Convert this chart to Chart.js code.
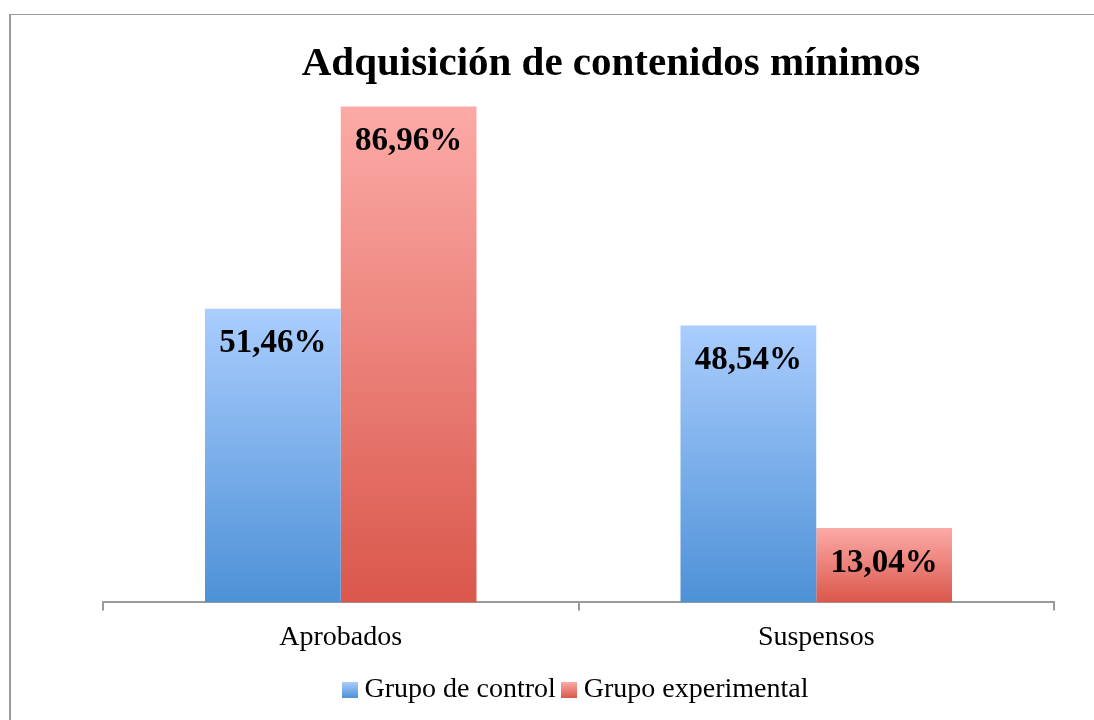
<!DOCTYPE html>
<html>
<head>
<meta charset="utf-8">
<script src="https://cdn.jsdelivr.net/npm/chart.js@4"></script>
<style>
  html, body { margin: 0; padding: 0; background: #fff; overflow: hidden; }
  #wrap { position: relative; width: 1094px; height: 720px; }
  #frame { position: absolute; left: 9px; top: 14px; width: 1200px; height: 800px;
           border-left: 2px solid #9a9a9a; border-top: 1px solid #9a9a9a; }
  canvas { position: absolute; left: 0; top: 0; }
</style>
</head>
<body>
<div id="wrap">
  <div id="frame"></div>
  <canvas id="chart" width="1094" height="720"></canvas>
</div>
<script>
// datos
const categories = ["Aprobados", "Suspensos"];
const grupoControl = [51.46, 48.54];
const grupoExperimental = [86.96, 13.04];
const seriesNames = ["Grupo de control", "Grupo experimental"];
const chartTitle = "Adquisición de contenidos mínimos";

const serif = "'Liberation Serif', 'DejaVu Serif', serif";
const blue = { top: "#aacdfe", bottom: "#4d91d7" };
const red = { top: "#fcaaa7", bottom: "#da574b" };

// degradado vertical por barra
function barGradient(colors) {
    return (ctx) => {
        const chart = ctx.chart;
        const y = chart.scales.y;
        if (!y || !chart.chartArea || ctx.type !== "data") return colors.bottom;
        const top = y.getPixelForValue(ctx.raw);
        const bottom = y.getPixelForValue(0);
        const g = chart.ctx.createLinearGradient(0, top, 0, bottom);
        g.addColorStop(0, colors.top);
        g.addColorStop(1, colors.bottom);
        return g;
    };
}

// cuadrito de leyenda con degradado
function legendBox(colors) {
    const c = document.createElement("canvas");
    c.width = 16; c.height = 16;
    const x = c.getContext("2d");
    const g = x.createLinearGradient(0, 0, 0, 16);
    g.addColorStop(0, colors.top);
    g.addColorStop(1, colors.bottom);
    x.fillStyle = g;
    x.fillRect(0, 0, 16, 16);
    return c;
}

// titulo + etiquetas de valor
const labelsPlugin = {
    id: "valueLabels",
    afterDatasetsDraw(chart) {
        const ctx = chart.ctx;
        ctx.save();
        ctx.fillStyle = "#000";
        ctx.textAlign = "center";
        ctx.textBaseline = "middle";
        ctx.font = "bold 33px " + serif;
        chart.data.datasets.forEach((ds, i) => {
            chart.getDatasetMeta(i).data.forEach((bar, j) => {
                const txt = ds.data[j].toFixed(2).replace(".", ",") + "%";
                ctx.fillText(txt, bar.x, bar.y + 35);
            });
        });
        ctx.font = "bold 41px " + serif;
        ctx.fillText(chartTitle, 611, 64);
        ctx.restore();
    }
};

new Chart(document.getElementById("chart"), {
    type: "bar",
    data: {
        labels: categories,
        datasets: [
            {
                label: seriesNames[0],
                data: grupoControl,
                backgroundColor: barGradient(blue),
                pointStyle: legendBox(blue)
            },
            {
                label: seriesNames[1],
                data: grupoExperimental,
                backgroundColor: barGradient(red),
                pointStyle: legendBox(red)
            }
        ]
    },
    options: {
        responsive: false,
        animation: false,
        categoryPercentage: 0.571,
        barPercentage: 1,
        layout: { padding: { left: 103, right: 40, top: 32, bottom: 6 } },
        plugins: {
            title: { display: false },
            tooltip: { enabled: false },
            legend: {
                position: "bottom",
                labels: {
                    usePointStyle: true,
                    color: "#000",
                    font: { family: serif, size: 28 },
                    padding: 12,
                    boxWidth: 2,
                    boxHeight: 16
                }
            }
        },
        scales: {
            x: {
                grid: {
                    offset: true,
                    drawOnChartArea: false,
                    drawTicks: true,
                    tickLength: 8,
                    color: "#9a9a9a",
                    lineWidth: 2
                },
                border: { display: true, color: "#9a9a9a", width: 2 },
                ticks: {
                    color: "#000",
                    font: { family: serif, size: 28 },
                    padding: 10
                }
            },
            y: {
                display: false,
                min: 0,
                max: 100
            }
        }
    },
    plugins: [labelsPlugin]
});
</script>
</body>
</html>
